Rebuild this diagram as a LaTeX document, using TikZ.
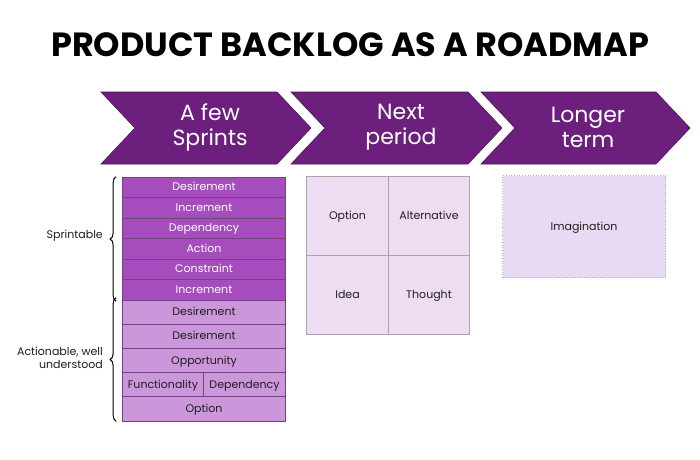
\documentclass[tikz,border=0pt]{standalone}
\usepackage{fontspec}
\setmainfont{Poppins}
\usetikzlibrary{decorations.pathreplacing}
\definecolor{chev}{HTML}{6C1F7D}
\definecolor{darkrow}{HTML}{A64DBD}
\definecolor{lightrow}{HTML}{CC97DA}
\definecolor{rowline}{HTML}{74437F}
\definecolor{gridfill}{HTML}{EEDDF2}
\definecolor{imagfill}{HTML}{E8DAF3}
\definecolor{txt}{HTML}{1E1E1E}
\tikzset{
  chevshape/.style={fill=chev, draw=chev!70!black, line width=0.6pt},
  chevtext/.style={text=white, font=\fontsize{22}{25}\selectfont, align=center},
  boxbase/.style={line width=0.7pt, font=\fontsize{11}{12}\selectfont, inner sep=0pt, text height=8pt, text depth=1pt},
  darkbox/.style={boxbase, draw=rowline, fill=darkrow, text=white},
  lightbox/.style={boxbase, draw=rowline, fill=lightrow, text=txt},
  gridbox/.style={boxbase, draw=gray!70, fill=gridfill, text=txt},
  imagbox/.style={boxbase, draw=gray!60, dotted, line width=0.8pt, fill=imagfill, text=txt},
  sidelabel/.style={text=txt, font=\fontsize{11}{13.5}\selectfont, align=right, anchor=east, inner sep=0pt},
  bracestyle/.style={decorate, decoration={brace, amplitude=6pt, mirror}, draw=black, line width=1pt},
}
\begin{document}
\begin{tikzpicture}[x=1pt, y=-1pt]
\useasboundingbox (0,0) rectangle (700,459);
\fill[white] (0,0) rectangle (700,459);

% title
\node[font=\fontsize{33.5}{36}\selectfont\bfseries, text=black] (title) at (350,45) {PRODUCT BACKLOG AS A ROADMAP};

% chevrons
\draw[chevshape] (101,92) -- (277,92) -- (311,128) -- (277,164) -- (101,164) -- (135,128) -- cycle;
\draw[chevshape] (291,92) -- (468,92) -- (502,128) -- (468,164) -- (291,164) -- (325,128) -- cycle;
\draw[chevshape] (481,92) -- (656,92) -- (690,128) -- (656,164) -- (481,164) -- (515,128) -- cycle;
\node[chevtext] (c1) at (210,127) {A few\\Sprints};
\node[chevtext] (c2) at (401,127) {Next\\period};
\node[chevtext] (c3) at (588,127) {Longer\\term};

% sprintable rows
\node[darkbox, minimum width=163pt, minimum height=20.5pt] (d1) at (204,187.25) {Desirement};
\node[darkbox, minimum width=163pt, minimum height=20.5pt] (d2) at (204,207.75) {Increment};
\node[darkbox, minimum width=163pt, minimum height=20.5pt] (d3) at (204,228.25) {Dependency};
\node[darkbox, minimum width=163pt, minimum height=20.5pt] (d4) at (204,248.75) {Action};
\node[darkbox, minimum width=163pt, minimum height=20.5pt] (d5) at (204,269.25) {Constraint};
\node[darkbox, minimum width=163pt, minimum height=20.5pt] (d6) at (204,289.75) {Increment};

% actionable rows
\node[lightbox, minimum width=163pt, minimum height=24.2pt] (l1) at (204,312.1) {Desirement};
\node[lightbox, minimum width=163pt, minimum height=24.2pt] (l2) at (204,336.3) {Desirement};
\node[lightbox, minimum width=163pt, minimum height=24.2pt] (l3) at (204,360.5) {Opportunity};
\node[lightbox, minimum width=81pt, minimum height=24.2pt] (l4a) at (163,384.7) {Functionality};
\node[lightbox, minimum width=82pt, minimum height=24.2pt] (l4b) at (244.5,384.7) {Dependency};
\node[lightbox, minimum width=163pt, minimum height=24.2pt] (l5) at (204,408.9) {Option};

% braces
\draw[bracestyle] ([xshift=-6pt]d1.north west) -- ([xshift=-6pt,yshift=-1pt]d6.south west);
\draw[bracestyle] ([xshift=-6pt,yshift=2pt]l1.north west) -- ([xshift=-6pt]l5.south west);
\node[sidelabel] (s1) at (103,236) {Sprintable};
\node[sidelabel] (s2) at (103,358) {Actionable, well\\understood};

% next period grid
\node[gridbox, minimum width=81.5pt, minimum height=79pt] (g1) at (347.5,216.2) {Option};
\node[gridbox, minimum width=81.5pt, minimum height=79pt] (g2) at (429,216.2) {Alternative};
\node[gridbox, minimum width=81.5pt, minimum height=79pt] (g3) at (347.5,295.2) {Idea};
\node[gridbox, minimum width=81.5pt, minimum height=79pt] (g4) at (429,295.2) {Thought};

% longer term
\node[imagbox, minimum width=163pt, minimum height=102pt] (im) at (584,226.7) {Imagination};
\end{tikzpicture}
\end{document}
